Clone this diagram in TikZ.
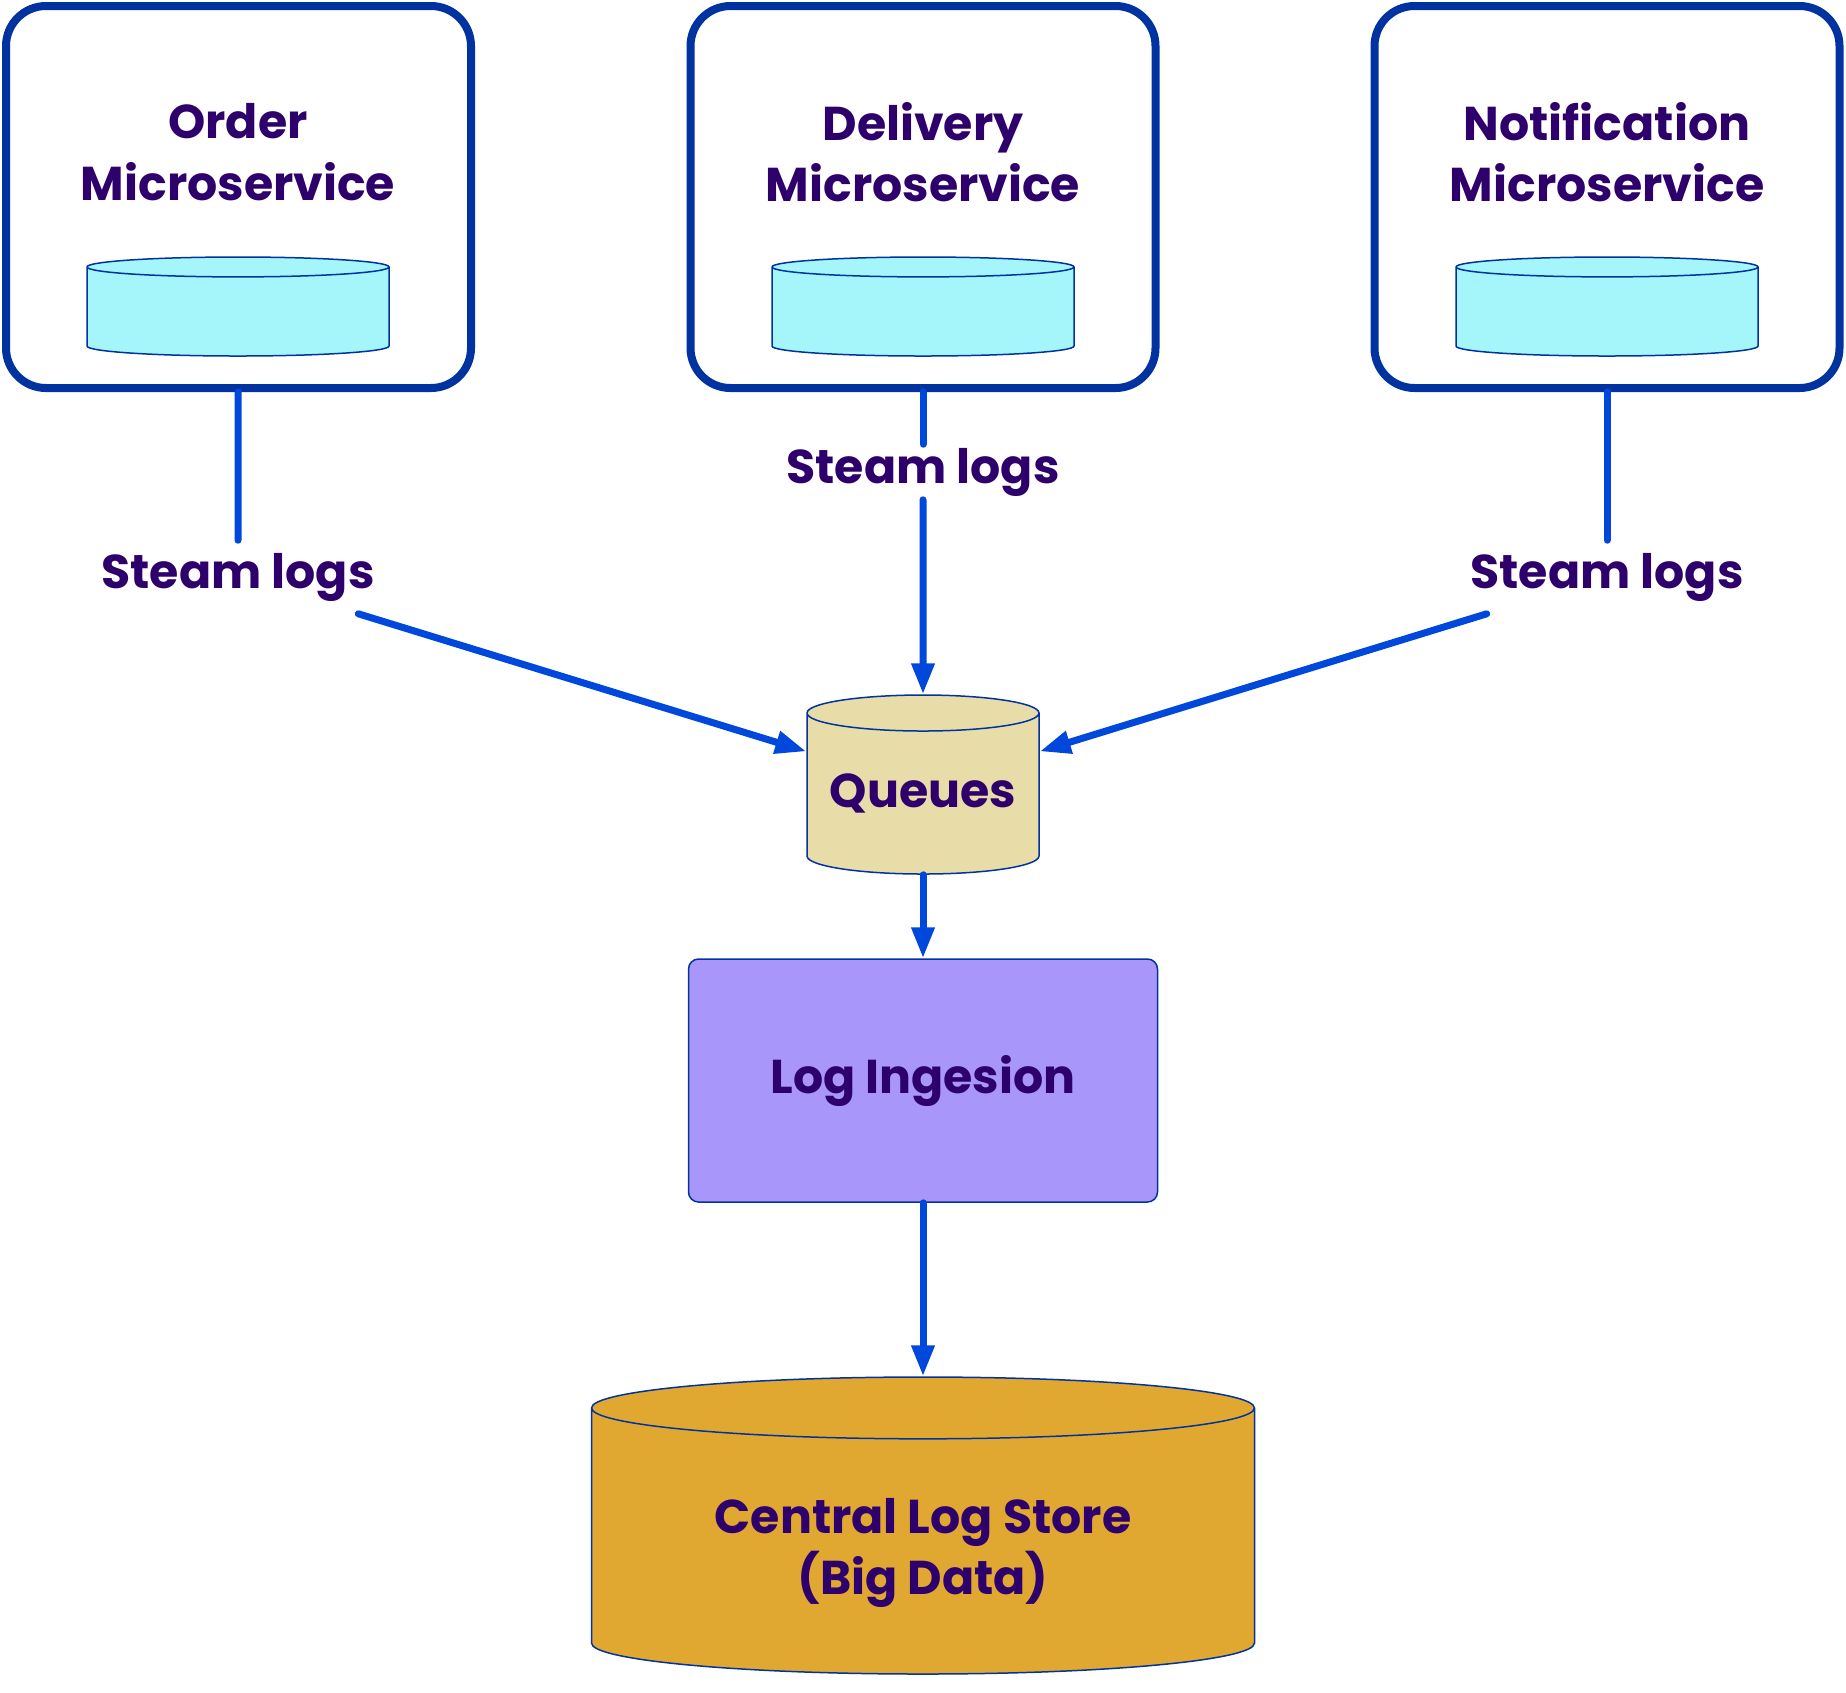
\documentclass[tikz,border=0pt]{standalone}
\usepackage{fontspec}
\setmainfont{Poppins}
\usetikzlibrary{shapes.geometric,arrows.meta}

\definecolor{txtpurple}{HTML}{2E006C}
\definecolor{boxblue}{HTML}{0033A0}
\definecolor{linkblue}{HTML}{0048DB}
\definecolor{dbcyan}{HTML}{A5F6FB}
\definecolor{queuetan}{HTML}{E8DDA8}
\definecolor{ingestviolet}{HTML}{A896FB}
\definecolor{storegold}{HTML}{E0A830}

\tikzset{
  svcbox/.style={draw=boxblue, line width=0.8mm, rounded corners=4mm, minimum width=46.5mm, minimum height=38.2mm},
  txt/.style={text=txtpurple, font=\fontsize{13.5}{17.5}\selectfont\bfseries, align=center},
  db/.style={cylinder, shape border rotate=90, anchor=shape center, draw=boxblue, line width=0.15mm, inner sep=0pt},
  svcdb/.style={db, fill=dbcyan, text width=28mm, minimum width=30.2mm, minimum height=9.9mm, aspect=0.071},
  loglabel/.style={txt, inner sep=1.2mm},
  link/.style={draw=linkblue, line width=0.7mm, line cap=round},
  flow/.style={link, -{Triangle[length=3.1mm,width=2.2mm]}},
}

\begin{document}
\begin{tikzpicture}[x=0.1mm, y=-0.1mm]
        \useasboundingbox (0,0) rectangle (1846,1692);

        % microservices
        \node [svcbox] (order) at (238.5,197) {};
        \node [svcbox] (delivery) at (923,197) {};
        \node [svcbox] (notify) at (1607,197) {};

        \node [txt] (ordername) at (238,152) {Order\\Microservice};
        \node [txt] (deliveryname) at (923,152) {Delivery\\Microservice};
        \node [txt] (notifyname) at (1607,152) {Notification\\Microservice};

        \node [svcdb] (orderdb) at (238,306.5) {};
        \node [svcdb] (deliverydb) at (923,306.5) {};
        \node [svcdb] (notifydb) at (1607,306.5) {};

        \node [loglabel] (orderlog) at (238,577) {Steam logs};
        \node [loglabel, inner sep=0.3mm] (deliverylog) at (923,472) {Steam logs};
        \node [loglabel] (notifylog) at (1607,577) {Steam logs};

        % pipeline
        \node [db, txt, fill=queuetan, text width=20mm, minimum width=23.2mm, minimum height=17.9mm, aspect=0.18] (queue) at (923,784.5) {Queues};
        \node [txt, draw=boxblue, line width=0.15mm, fill=ingestviolet, rounded corners=1mm, minimum width=46.9mm, minimum height=24.3mm] (ingest) at (923,1080.5) {Log Ingesion};
        \node [db, fill=storegold, text width=60mm, minimum width=66.3mm, minimum height=29.7mm, aspect=0.103] (store) at (923,1525.5) {};
        \node [txt] (storename) at (923,1553) {Central Log Store\\(Big Data)};

        % arrows
        \draw [link] (order) -- (orderlog);
        \draw [link] (delivery) -- (deliverylog);
        \draw [link] (notify) -- (notifylog);

        \draw [flow] (orderlog.-17) -- (queue.160);
        \draw [flow] (deliverylog) -- (queue);
        \draw [flow] (notifylog.197) -- (queue.20);

        \draw [flow] (queue) -- (ingest);
        \draw [flow] (ingest) -- (store);
\end{tikzpicture}
\end{document}
